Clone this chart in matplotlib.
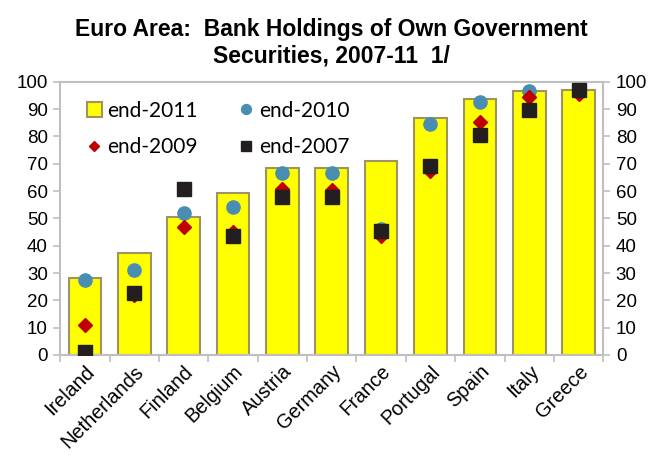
import matplotlib.pyplot as plt
import numpy as np

plt.rcParams.update({
    "font.family": ["Liberation Sans", "DejaVu Sans"],
    "font.size": 13.5,
})

countries = ["Ireland", "Netherlands", "Finland", "Belgium", "Austria", "Germany",
             "France", "Portugal", "Spain", "Italy", "Greece"]
end_2011 = [28.3, 37.2, 50.4, 59.3, 68.3, 68.3, 71.1, 86.9, 93.9, 96.6, 97.2]
end_2010 = [27.6, 31.2, 52.0, 54.0, 66.5, 66.5, 46.2, 84.6, 92.8, 96.8, 97.0]
end_2009 = [11.0, 21.8, 46.7, 45.2, 60.8, 60.5, 43.5, 67.3, 85.3, 94.5, 95.6]
end_2007 = [1.0, 22.8, 60.9, 43.5, 58.0, 58.0, 45.3, 69.1, 80.7, 89.8, 97.1]

grey = "#bfbfbf"
x = np.arange(len(countries))

fig, ax = plt.subplots(figsize=(6.55, 4.55), dpi=100)
fig.subplots_adjust(left=0.092, right=0.921, top=0.82, bottom=0.22)

b11 = ax.bar(x, end_2011, width=0.66, color="#ffff00", edgecolor="#9e9462",
             linewidth=1.5, label="end-2011", zorder=2)
l10, = ax.plot(x, end_2010, "o", color="#4a8db2", markersize=9.5, label="end-2010", zorder=3)
l09, = ax.plot(x, end_2009, "D", color="#c00000", markersize=6.8, label="end-2009", zorder=4)
l07, = ax.plot(x, end_2007, "s", color="#231f20", markersize=10, label="end-2007", zorder=5)

ax.set_xlim(-0.5, len(countries) - 0.5)
ax.set_ylim(0, 100)
ax.set_yticks(range(0, 101, 10))
ax.tick_params(axis="y", which="both", left=True, right=True, labelleft=True,
               labelright=True, color=grey, length=5, width=1.2, pad=4)

# category ticks sit between the bars
ax.set_xticks(x)
ax.set_xticklabels(countries, rotation=45, ha="right", rotation_mode="anchor",
                   fontsize=14.3)
ax.tick_params(axis="x", length=0, pad=5)
ax.set_xticks(np.arange(-0.5, len(countries)), minor=True)
ax.tick_params(axis="x", which="minor", length=5, color=grey, width=1.2)

for s in ax.spines.values():
    s.set_color(grey)
    s.set_linewidth(1.5)

ax.set_title("Euro Area:  Bank Holdings of Own Government\nSecurities, 2007-11  1/",
             fontsize=16.5, fontweight="bold", pad=14)

# two columns: 2011 / 2010 on top row, 2009 / 2007 below
ax.legend([b11, l09, l10, l07], ["end-2011", "end-2009", "end-2010", "end-2007"],
          ncol=2, frameon=False, loc="upper left", bbox_to_anchor=(0.015, 1.0),
          prop={"family": "Lato", "size": 15}, handlelength=0.7, handleheight=0.7,
          handletextpad=0.25, columnspacing=2.0, labelspacing=0.8, markerscale=0.75)

plt.savefig("out.png", dpi=100)
